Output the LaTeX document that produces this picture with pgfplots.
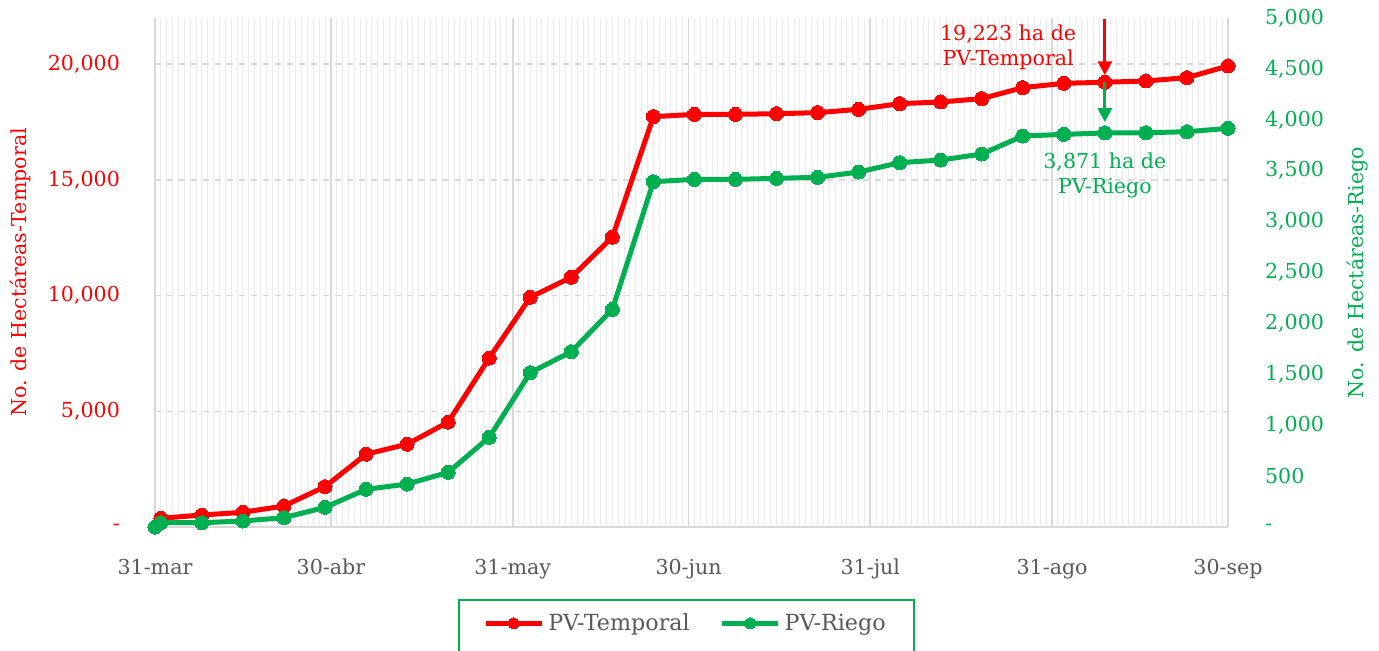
\documentclass[border=0pt]{standalone}
\usepackage{pgfplots}
\pgfplotsset{compat=1.18}
\usepackage{pgfplotstable}
\usepackage{fontspec}
\setmainfont{DejaVu Serif}
\usetikzlibrary{arrows.meta}
\definecolor{tred}{HTML}{FF0000}
\definecolor{rgreen}{HTML}{00B050}
\definecolor{lblgray}{HTML}{595959}
\definecolor{gridgray}{HTML}{D9D9D9}
\definecolor{mingray}{HTML}{ECECEC}

\pgfplotstableread{
day val
1 377
8 519
15 636
22 909
29 1745
36 3147
43 3580
50 4532
57 7302
64 9928
71 10794
78 12525
85 17736
92 17835
99 17835
106 17865
113 17908
120 18052
127 18298
134 18370
141 18515
148 18991
155 19177
162 19223
169 19278
176 19422
183 19927
}\temporal

\pgfplotstableread{
day val
0 0
1 42
8 42
15 59
22 92
29 193
36 370
43 422
50 537
57 881
64 1516
71 1722
78 2138
85 3392
92 3415
99 3415
106 3425
113 3435
120 3487
127 3579
134 3605
141 3664
148 3841
155 3857
162 3871
169 3873
176 3883
183 3916
}\riego

\begin{document}
\begin{tikzpicture}[font=\fontsize{10.3}{12.5}\selectfont]
\useasboundingbox (-77.5pt,-61.5pt) rectangle (612pt,263.5pt);
\begin{axis}[
  at={(0,0)}, anchor=south west,
  scale only axis, width=536.5pt, height=254.5pt,
  xmin=0, xmax=183, ymin=0, ymax=22000,
  clip=false, scaled y ticks=false,
  axis x line*=bottom, axis y line*=left,
  axis line style={draw=gridgray, line width=1pt, -},
  xtick={0,30,61,91,122,153,183},
  xticklabels={31-mar,30-abr,31-may,30-jun,31-jul,31-ago,30-sep},
  minor xtick={0,1,...,183},
  xmajorgrids, xminorgrids, ymajorgrids,
  major x grid style={gridgray, line width=0.9pt},
  minor x grid style={mingray, line width=0.5pt},
  major y grid style={gridgray, dashed, line width=0.8pt},
  major tick length=0pt, minor tick length=0pt,
  ytick={0,5000,10000,15000,20000},
  yticklabels={-,{5,000},{10,000},{15,000},{20,000}},
  yticklabel style={text=tred, xshift=-14pt},
  xticklabel style={text=lblgray, yshift=-12.5pt},
  ylabel={No. de Hectáreas-Temporal},
  every axis y label/.style={at={(axis description cs:-0.1258,0.5)}, rotate=90, anchor=center, text=tred},
]
\addplot[tred, line width=2.5pt, mark=*, mark size=3.5pt, mark options={fill=tred, draw=tred, line width=0pt}] table[x=day, y=val] {\temporal};
\node[text=tred, align=center] at (axis cs:145.5,20737) {19,223 ha de\\PV-Temporal};
\draw[tred, line width=1.5pt, -{Triangle[width=7pt,length=7pt]}] (axis cs:162,21950) -- (axis cs:162,19524);
\end{axis}
\begin{axis}[
  at={(0,0)}, anchor=south west,
  scale only axis, width=536.5pt, height=254.5pt,
  xmin=0, xmax=183, ymin=0, ymax=5000,
  clip=false, scaled y ticks=false,
  axis x line=none, axis y line*=right,
  axis line style={draw=none},
  major tick length=0pt,
  ytick={0,500,...,5000},
  yticklabels={-,500,{1,000},{1,500},{2,000},{2,500},{3,000},{3,500},{4,000},{4,500},{5,000}},
  yticklabel style={text=rgreen, xshift=15pt, anchor=west},
  ylabel={No. de Hectáreas-Riego},
  every axis y label/.style={at={(axis description cs:1.1211,0.5)}, rotate=90, anchor=center, text=rgreen},
  legend columns=2,
  legend style={name=leg, at={(axis description cs:0.4953,-0.1434)}, anchor=north, draw=none, text=lblgray,
    font=\fontsize{11.1}{13}\selectfont, inner xsep=12pt, inner ysep=4.5pt,
    /tikz/every even column/.append style={column sep=13pt}},
  legend image code/.code={\draw[#1, mark repeat=2, mark phase=2, mark size=2.8pt] plot coordinates {(0pt,0pt) (14pt,0pt) (28pt,0pt)};},
]
\addlegendimage{tred, line width=2.5pt, mark=*, mark options={fill=tred, draw=tred, line width=0pt}}
\addlegendentry{PV-Temporal}
\addplot[rgreen, line width=2.5pt, mark=*, mark size=3.5pt, mark options={fill=rgreen, draw=rgreen, line width=0pt}] table[x=day, y=val] {\riego};
\addlegendentry{PV-Riego}
\draw[rgreen, line width=1.5pt, -{Triangle[width=7pt,length=7pt]}] (axis cs:162,4371) -- (axis cs:162,3978);
\node[text=rgreen, align=center] at (axis cs:162,3458) {3,871 ha de\\PV-Riego};
\end{axis}
\draw[rgreen, line width=0.8pt] (leg.north west) rectangle ([yshift=-12pt]leg.south east);
\end{tikzpicture}
\end{document}
